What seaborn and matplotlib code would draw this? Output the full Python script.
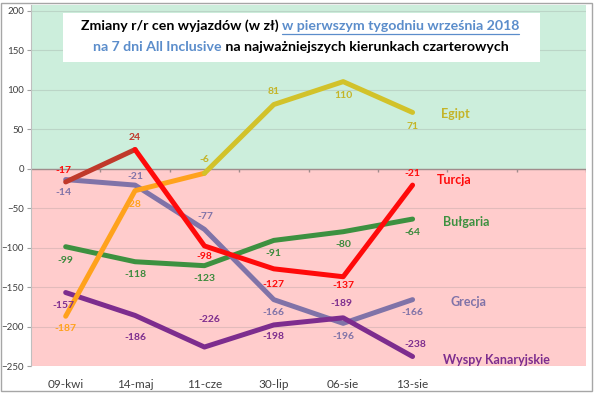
import numpy as np
import pandas as pd
import matplotlib
matplotlib.use("Agg")
import matplotlib.pyplot as plt
import seaborn as sns
from matplotlib.patches import Rectangle
from matplotlib.lines import Line2D

# ---------------- data ----------------
categories = ["09-kwi", "14-maj", "11-cze", "30-lip", "06-sie", "13-sie"]
egipt = [-187, -28, -6, 81, 110, 71]
turcja = [-17, 24, -98, -127, -137, -21]
bulgaria = [-99, -118, -123, -91, -80, -64]
grecja = [-14, -21, -77, -166, -196, -166]
wyspy = [-157, -186, -226, -198, -189, -238]
series_names = ["Egipt", "Turcja", "Bułgaria", "Grecja", "Wyspy Kanaryjskie"]
yticks = list(range(-250, 201, 50))
title_line1 = ["Zmiany r/r cen wyjazdów (w zł) ", "w pierwszym tygodniu września 2018"]
title_line2 = ["na 7 dni All Inclusive", " na najważniejszych kierunkach czarterowych"]

# ---------------- style ----------------
YELLOW = "#D2C22A"
ORANGE = "#FFA21C"
RED = "#FF0A0A"
DARKRED = "#C0392B"
GREEN = "#3D9140"
GRECJA = "#8073A8"
WYSPY = "#7D2D8E"
BLUE = "#5B8DCB"
BG_GREEN = "#CCEEDC"
BG_PINK = "#FFCCCC"
FONT = "Lato"

sns.set_theme(style="white")
plt.rcParams["font.family"] = [FONT, "DejaVu Sans"]

values = {"Egipt": egipt, "Turcja": turcja, "Bułgaria": bulgaria,
          "Grecja": grecja, "Wyspy Kanaryjskie": wyspy}

# line segments: (segment id, series, first idx, last idx, colour)
segments = [
    ("bul", "Bułgaria", 0, 5, GREEN),
    ("gre", "Grecja", 0, 5, GRECJA),
    ("wys", "Wyspy Kanaryjskie", 0, 5, WYSPY),
    ("egi_o", "Egipt", 0, 2, ORANGE),
    ("egi_y", "Egipt", 2, 5, YELLOW),
    ("tur_d", "Turcja", 0, 1, DARKRED),
    ("tur_r", "Turcja", 1, 5, RED),
]
rows = []
for sid, name, a, b, col in segments:
    for i in range(a, b + 1):
        rows.append({"seg": sid, "x": i, "y": values[name][i]})
df = pd.DataFrame(rows)
palette = {s[0]: s[4] for s in segments}
order = [s[0] for s in segments]

fig = plt.figure(figsize=(6.0, 3.94), dpi=100)
W, H = 600, 394
ax_left, ax_right, ax_top, ax_bottom = 31, 586, 5, 366
ax = fig.add_axes([ax_left / W, 1 - ax_bottom / H,
                   (ax_right - ax_left) / W, (ax_bottom - ax_top) / H])

ax.set_xlim(-0.5, 7.5)
ax.set_ylim(-250, 207)
ax.axhspan(0, 207, color=BG_GREEN, zorder=0, lw=0)
ax.axhspan(-250, 0, color=BG_PINK, zorder=0, lw=0)
for t in yticks:
    ax.axhline(t, color="#7F7F7F", alpha=0.22, lw=0.8, zorder=0.5)
ax.axhline(0, color="#A08C8C", lw=1.0, zorder=0.6)
ax.vlines(np.arange(0.5, 8.0, 1.0), -5, 0, color="#A08C8C", lw=1.0, zorder=0.6)

sns.lineplot(data=df, x="x", y="y", hue="seg", hue_order=order, palette=palette,
             estimator=None, sort=False, legend=False, linewidth=3.6,
             solid_capstyle="round", solid_joinstyle="round", ax=ax, zorder=3)

# data labels (pixel offsets, + = down)
offsets = {
    "Egipt": [(0, 12), (-2, 14), (0, -14), (0, -13), (0, 14), (0, 14)],
    "Turcja": [(-2, -11), (0, -12), (0, 11), (0, 16), (0, 9), (0, -12)],
    "Bułgaria": [(0, 14), (0, 13), (0, 13), (0, 13), (0, 13), (0, 13)],
    "Grecja": [(-2, 13), (0, -9), (1, -13), (0, 13), (0, 13), (0, 13)],
    "Wyspy Kanaryjskie": [(-2, 13), (0, 22), (5, -28), (0, 12), (-2, -14), (3, -12)],
}
label_colors = {
    "Egipt": [ORANGE, ORANGE, "#C4B428", "#C4B428", "#C4B428", "#C4B428"],
    "Turcja": [RED, DARKRED, RED, RED, RED, RED],
    "Bułgaria": ["#3A8A3C"] * 6,
    "Grecja": [GRECJA] * 6,
    "Wyspy Kanaryjskie": [WYSPY] * 6,
}
px2pt = 72 / 100
for name in series_names:
    for i, v in enumerate(values[name]):
        dx, dy = offsets[name][i]
        ax.annotate(str(v), (i, v), xytext=(dx * px2pt, -dy * px2pt),
                    textcoords="offset points", ha="center", va="center",
                    fontsize=7.5, fontweight="bold", color=label_colors[name][i],
                    zorder=4)

# series name labels
name_pos = {"Egipt": (5.61, 69, "#C4B428"), "Turcja": (5.6, -15, RED),
            "Bułgaria": (5.77, -68, GREEN), "Grecja": (5.81, -169, GRECJA),
            "Wyspy Kanaryjskie": (6.21, -242, WYSPY)}
for name in series_names:
    x, y, c = name_pos[name]
    ax.text(x, y, name, ha="center", va="center", fontsize=9,
            fontweight="bold", color=c, zorder=4)

# axes styling
ax.set_xticks(range(len(categories)))
ax.set_xticklabels(categories)
ax.set_yticks(yticks)
ax.tick_params(axis="x", length=0, pad=9, labelsize=8.5, labelcolor="#404040")
ax.tick_params(axis="y", length=3, width=0.8, color="#A0A0A0", pad=2,
               labelsize=7, labelcolor="#404040", left=True)
ax.set_xlabel("")
ax.set_ylabel("")
for s in ["top", "right", "bottom"]:
    ax.spines[s].set_visible(False)
ax.spines["left"].set_color("#BFBFBF")
ax.spines["left"].set_linewidth(0.8)

# title box
fig.patches.append(Rectangle((63 / W, 1 - 62 / H), (540 - 63) / W, (62 - 13) / H,
                             transform=fig.transFigure, facecolor="white",
                             edgecolor="none", zorder=5))
# outer frame
fig.patches.append(Rectangle((1 / W, 1 - 391 / H), (592 - 1) / W, (391 - 3) / H,
                             transform=fig.transFigure, facecolor="none",
                             edgecolor="#A6A6A6", lw=1.0, zorder=6))

renderer = fig.canvas.get_renderer()
title_size = 10.2


def draw_line(parts, colors, ycen_px, xcen_px, underline=None):
    texts = []
    widths = []
    for p, c in zip(parts, colors):
        t = fig.text(0, 0, p, fontsize=title_size, fontweight="bold", color=c,
                     ha="left", va="center", zorder=7)
        texts.append(t)
        widths.append(t.get_window_extent(renderer).width)
    total = sum(widths)
    x = xcen_px - total / 2
    for k, (t, w) in enumerate(zip(texts, widths)):
        t.set_position((x / W, 1 - ycen_px / H))
        if underline is not None and k == underline:
            fig.add_artist(Line2D([x / W, (x + w) / W],
                                  [1 - (ycen_px + 8) / H] * 2,
                                  transform=fig.transFigure, color=BLUE,
                                  lw=0.9, zorder=7))
        x += w


draw_line(title_line1, ["black", BLUE], 26, 300, underline=1)
draw_line(title_line2, [BLUE, "black"], 47, 301)

fig.savefig("out.png", dpi=100)
